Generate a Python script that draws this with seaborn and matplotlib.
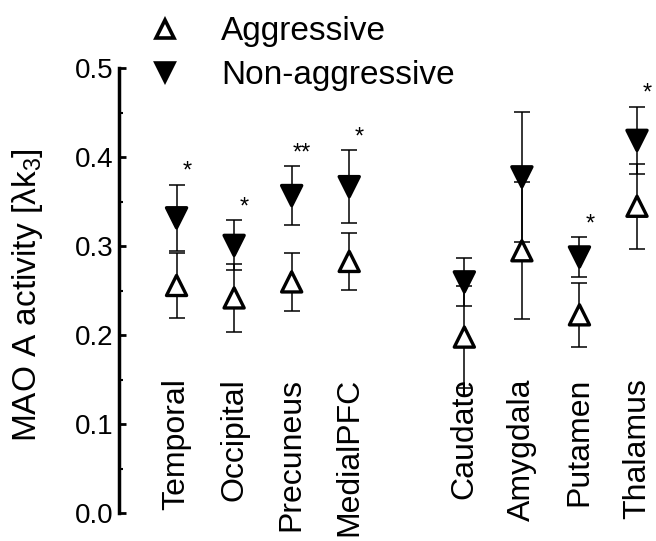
import matplotlib
matplotlib.use("Agg")
import matplotlib.pyplot as plt
from matplotlib.lines import Line2D
from matplotlib.ticker import MultipleLocator
import pandas as pd
import seaborn as sns

# values
regions = ["Temporal", "Occipital", "Precuneus", "MedialPFC",
           "Caudate", "Amygdala", "Putamen", "Thalamus"]
aggr_mean = [0.256, 0.242, 0.260, 0.283, 0.198, 0.295, 0.223, 0.345]
aggr_err = [0.037, 0.038, 0.033, 0.032, 0.057, 0.077, 0.036, 0.048]
nonaggr_mean = [0.332, 0.301, 0.357, 0.367, 0.260, 0.378, 0.288, 0.419]
nonaggr_err = [0.037, 0.028, 0.033, 0.041, 0.027, 0.073, 0.022, 0.038]
signif = ["*", "*", "**", "*", "", "", "*", "*"]
groups = ["Aggressive", "Non-aggressive"]

sns.set_theme(style="ticks")
plt.rcParams["font.family"] = ["Liberation Sans", "DejaVu Sans"]
plt.rcParams["mathtext.fontset"] = "custom"
plt.rcParams["mathtext.rm"] = "Liberation Sans"
plt.rcParams["mathtext.it"] = "Liberation Sans"
for k in ["text.color", "axes.labelcolor", "axes.edgecolor",
          "xtick.color", "ytick.color"]:
    plt.rcParams[k] = "black"

# cortical regions, then a gap, then subcortical ones
pos = [i + (1 if i >= 4 else 0) for i in range(len(regions))]

df = pd.concat([
    pd.DataFrame({"region": regions, "pos": pos, "mean": aggr_mean,
                  "err": aggr_err, "group": groups[0]}),
    pd.DataFrame({"region": regions, "pos": pos, "mean": nonaggr_mean,
                  "err": nonaggr_err, "group": groups[1]}),
], ignore_index=True)

fig = plt.figure(figsize=(6.56, 5.41), dpi=100)
ax = fig.add_axes([0.1814, 0.0512, 0.8186, 0.8226])

for g in groups:
    sub = df[df["group"] == g]
    ax.errorbar(sub["pos"], sub["mean"], yerr=sub["err"], fmt="none",
                ecolor="black", elinewidth=1.1, capsize=6, capthick=1.1,
                zorder=1)

sns.scatterplot(data=df, x="pos", y="mean", hue="group", style="group",
                markers={"Aggressive": "^", "Non-aggressive": "v"},
                palette={"Aggressive": "white", "Non-aggressive": "black"},
                edgecolor="black", linewidth=2.4, s=210, legend=False,
                zorder=3, ax=ax)

nonagg = df[df["group"] == groups[1]]
for p, top, s in zip(nonagg["pos"], nonagg["mean"] + nonagg["err"], signif):
    if s:
        ax.text(p + 0.18, top + 0.008, s, ha="center", va="baseline",
                fontsize=17)

for p, r in zip(pos, regions):
    ax.text(p, 0.152, r, rotation=90, ha="center", va="top", fontsize=23,
            clip_on=False)

ax.set_xlim(-1.0, 8.33)
ax.set_ylim(0, 0.5)
ax.set_xticks([])
ax.set_xlabel("")
ax.yaxis.set_major_locator(MultipleLocator(0.1))
ax.yaxis.set_minor_locator(MultipleLocator(0.05))
ax.tick_params(axis="y", which="major", direction="in", length=5, width=2,
               labelsize=20, pad=4)
ax.tick_params(axis="y", which="minor", direction="in", length=3, width=1.5)
sns.despine(ax=ax, bottom=True)
ax.spines["left"].set_linewidth(2.5)
ax.spines["left"].set_bounds(0, 0.5)
ax.set_ylabel("MAO A activity [λk$_3$]", fontsize=24)
ax.yaxis.set_label_coords(-0.138, 0.49)

handles = [
    Line2D([], [], marker="^", ls="none", mfc="white", mec="black",
           mew=2.6, ms=13),
    Line2D([], [], marker="v", ls="none", mfc="black", mec="black",
           mew=2.6, ms=13),
]
fig.legend(handles, groups, loc="upper left", bbox_to_anchor=(0.2264, 0.970),
           frameon=False, fontsize=24, borderpad=0, borderaxespad=0,
           handlelength=1.0, handletextpad=1.17, labelspacing=0.38)

fig.savefig("out.png", dpi=100)
